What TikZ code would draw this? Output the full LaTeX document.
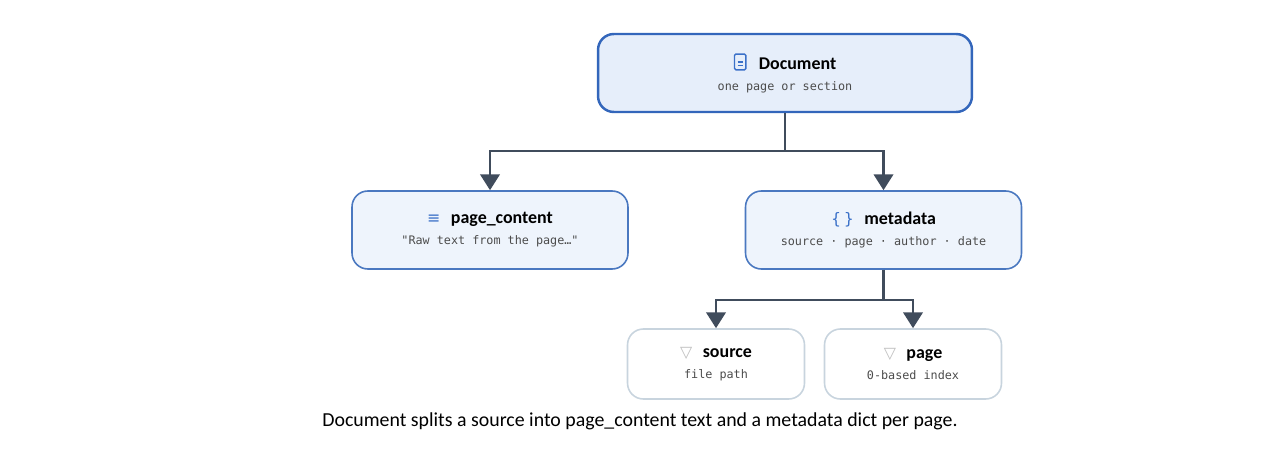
\documentclass[tikz,border=0pt]{standalone}
\usepackage{fontspec}
\setmainfont{Carlito}
\setmonofont{DejaVu Sans Mono}
\newfontfamily\symfont{DejaVu Sans}
\usetikzlibrary{positioning,arrows.meta}
\definecolor{rootfill}{HTML}{E6EEFA}
\definecolor{rootdraw}{HTML}{3366BB}
\definecolor{midfill}{HTML}{EEF4FC}
\definecolor{middraw}{HTML}{4A78C0}
\definecolor{leafdraw}{HTML}{C8D4DE}
\definecolor{edgecol}{HTML}{404C5C}
\definecolor{iconcol}{HTML}{3A70C8}
\newcommand{\ttl}[2]{{\symfont\small\color{#1}#2}\hspace{0.6em}}
\newcommand{\sub}{\ttfamily\fontsize{6.7}{8}\selectfont\color{black!70}}
\newcommand{\hd}{\bfseries\fontsize{10.2}{12}\selectfont}
\newcommand{\docicon}{\tikz[baseline=0pt,x=1pt,y=1pt]{\draw[iconcol,line width=0.8pt,rounded corners=0.8pt] (0,-0.5) rectangle (6.5,8.5);\draw[iconcol,line width=0.6pt] (1.8,2)--(4.7,2) (1.8,4)--(4.7,4);}\hspace{0.7em}}

\begin{document}
\begin{tikzpicture}[x=0.02cm,y=-0.02cm,
  box/.style={rounded corners=9pt,align=center,inner sep=0pt},
  root/.style={box,draw=rootdraw,fill=rootfill,line width=1.4pt,minimum width=7.48cm,minimum height=1.56cm},
  mid/.style={box,draw=middraw,fill=midfill,line width=0.9pt,minimum width=5.52cm,minimum height=1.56cm},
  leaf/.style={box,draw=leafdraw,fill=white,line width=0.9pt,minimum width=3.54cm,minimum height=1.4cm},
  edge/.style={draw=edgecol,line width=1.5pt,-{Triangle[length=9pt,width=11pt]}}]
		\useasboundingbox (0,0) rectangle (1280,459);

		%root node
		\node[root] (doc) at (785,73) {\docicon{\hd Document}\\[0pt]\sub one page or section};

		%middle nodes
		\node[mid] (pc) at (490,230) {\ttl{iconcol}{≡}{\hd page\_content}\\[0pt]\sub "Raw text from the page…"};
		\node[mid] (meta) at (883.5,230) {\ttl{iconcol}{\{\,\}}{\hd metadata}\\[0pt]\sub source · page · author · date};

		%leaf nodes
		\node[leaf] (src) at (716,364) {\ttl{gray!50}{▽}{\hd source}\\[0pt]\sub file path};
		\node[leaf] (pg) at (913,364) {\ttl{gray!50}{▽}{\hd page}\\[0pt]\sub 0-based index};

		%edges
		\draw[edge] (doc.south) |- (490,151) -- (pc.north);
		\draw[edge] (doc.south) |- (883.5,151) -- (meta.north);
		\draw[edge] (meta.south) |- (716,300) -- (src.north);
		\draw[edge] (meta.south) |- (913,300) -- (pg.north);

		%caption
		\node (cap) at (640,421) {\fontsize{11.3}{14}\selectfont Document splits a source into page\_content text and a metadata dict per page.};
\end{tikzpicture}
\end{document}
